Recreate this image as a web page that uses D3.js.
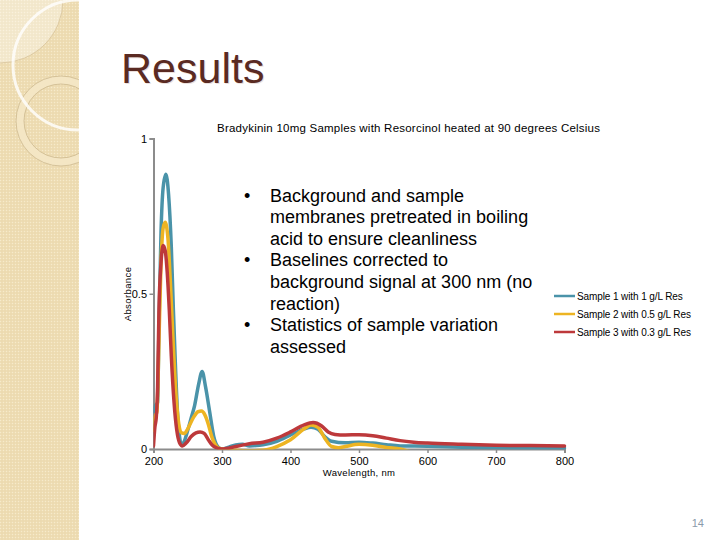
<!DOCTYPE html>
<html><head><meta charset="utf-8">
<script src="https://cdn.jsdelivr.net/npm/d3@7"></script>
<style>html,body{margin:0;padding:0;background:#fff;}svg{display:block;}</style>
</head><body>
<script>
// ---- data ----
const chartTitle = "Bradykinin 10mg Samples with Resorcinol heated at 90 degrees Celsius";
const seriesNames = ["Sample 1 with 1 g/L Res", "Sample 2 with 0.5 g/L Res", "Sample 3 with 0.3 g/L Res"];
const seriesColors = ["#4A93A9", "#EDB422", "#BD393B"];
const xTicks = [200, 300, 400, 500, 600, 700, 800];
const yTicks = [0, 0.5, 1];
const yTickLabels = ["0", "0.5", "1"];

const wl1 = [200,203,206,208,211,214,218,222,226,229,232,235,238,241,245,250,255,260,266,271,276,282,288,295,300,310,320,330,340,350,360,380,400,420,430,440,450,460,480,500,520,540,560,600,650,700,750,800];
const abs1 = [0.12,0.14,0.15,0.40,0.70,0.84,0.885,0.82,0.65,0.45,0.27,0.12,0.04,0.012,0.025,0.06,0.10,0.14,0.21,0.25,0.20,0.12,0.04,0.005,0.0,0.006,0.013,0.015,0.01,0.011,0.014,0.025,0.045,0.065,0.07,0.064,0.04,0.025,0.02,0.022,0.019,0.014,0.01,0.009,0.006,0.004,0.003,0.003];

const wl2 = [200,202,205,208,211,214,217,221,225,229,233,237,241,245,250,258,265,270,275,280,285,290,295,300,320,340,360,370,380,400,420,430,440,450,460,470,480,500,520,540,560,580,650,800];
const abs2 = [0.06,0.1,0.12,0.35,0.6,0.71,0.73,0.68,0.52,0.33,0.17,0.08,0.052,0.05,0.065,0.1,0.12,0.122,0.11,0.08,0.04,0.015,0.003,0.0,-0.004,-0.006,-0.004,0.0,0.008,0.03,0.065,0.077,0.07,0.035,0.008,0.004,0.008,0.015,0.012,0.005,0.0,-0.01,-0.01,-0.01];

const wl3 = [200,202,204,206,208,211,214,217,220,223,226,230,234,238,242,248,255,262,268,274,280,286,292,300,320,340,360,380,400,420,433,445,455,465,480,500,520,540,560,580,600,650,700,750,800];
const abs3 = [0.01,0.07,0.1,0.2,0.45,0.6,0.655,0.64,0.57,0.45,0.3,0.15,0.06,0.02,0.01,0.02,0.04,0.052,0.055,0.05,0.03,0.012,0.004,0.0,0.008,0.017,0.022,0.035,0.055,0.078,0.085,0.075,0.055,0.047,0.045,0.046,0.043,0.035,0.027,0.022,0.019,0.015,0.012,0.011,0.01];

const bulletLines = [
  {t:"Background and sample", b:true},
  {t:"membranes pretreated in boiling", b:false},
  {t:"acid to ensure cleanliness", b:false},
  {t:"Baselines corrected to", b:true},
  {t:"background signal at 300 nm (no", b:false},
  {t:"reaction)", b:false},
  {t:"Statistics of sample variation", b:true},
  {t:"assessed", b:false}
];

// ---- drawing ----
const W = 720, H = 540;
const svg = d3.select("body").append("svg").attr("width", W).attr("height", H);
const defs = svg.append("defs");
const font = "Arial, 'Liberation Sans', Helvetica, sans-serif";

// left decorative band
const pat = defs.append("pattern").attr("id","hatch").attr("width",3).attr("height",3).attr("patternUnits","userSpaceOnUse");
pat.append("rect").attr("width",3).attr("height",3).attr("fill","#EEDDB4");
pat.append("rect").attr("width",1).attr("height",1).attr("fill","#F6EACB");
pat.append("rect").attr("x",1.5).attr("y",1.5).attr("width",1).attr("height",1).attr("fill","#E6D2A4");
defs.append("clipPath").attr("id","bandclip").append("rect").attr("x",0).attr("y",0).attr("width",79).attr("height",H);
const band = svg.append("g").attr("clip-path","url(#bandclip)");
band.append("rect").attr("x",0).attr("y",0).attr("width",79).attr("height",H).attr("fill","url(#hatch)");
band.append("circle").attr("cx",0).attr("cy",0).attr("r",63).attr("fill","#FFFFFF").attr("fill-opacity",0.35).attr("stroke","#D8C49A").attr("stroke-width",0.8);
band.append("circle").attr("cx",61).attr("cy",121).attr("r",41).attr("fill","none").attr("stroke","#F4E6C4").attr("stroke-width",8);
band.append("circle").attr("cx",61).attr("cy",121).attr("r",45).attr("fill","none").attr("stroke","#CDB98E").attr("stroke-width",0.8);
band.append("circle").attr("cx",61).attr("cy",121).attr("r",37).attr("fill","none").attr("stroke","#CDB98E").attr("stroke-width",0.8);
band.append("circle").attr("cx",78).attr("cy",65).attr("r",65).attr("fill","none").attr("stroke","#FFFFFF").attr("stroke-opacity",0.8).attr("stroke-width",3);

// slide title
svg.append("text").attr("x",122).attr("y",83.5).attr("font-family",font).attr("font-size",43).attr("fill","#EBE0DC").text("Results");
svg.append("text").attr("x",121).attr("y",82.5).attr("font-family",font).attr("font-size",43).attr("fill","#5A2A22").text("Results");

// scales
const x = d3.scaleLinear().domain([200, 800]).range([153.5, 564.5]);
const y = d3.scaleLinear().domain([0, 1]).range([449, 138.5]);
const axisColor = "#8C8C8C";

// chart title
svg.append("text").attr("x",217).attr("y",132).attr("textLength",383).attr("lengthAdjust","spacing")
  .attr("font-family",font).attr("font-size",11.5).attr("fill","#000").text(chartTitle);

// axes
const xAxis = svg.append("g").attr("transform",`translate(0,${y(0)})`)
  .call(d3.axisBottom(x).tickValues(xTicks).tickSize(4).tickFormat(d3.format("d")));
xAxis.select(".domain").attr("stroke",axisColor).attr("stroke-width",2);
xAxis.selectAll(".tick line").attr("stroke",axisColor).attr("stroke-width",1.5);
xAxis.selectAll(".tick text").attr("font-family",font).attr("font-size",11).attr("fill","#000").attr("dy",0).attr("y",15.5);

const yAxis = svg.append("g").attr("transform",`translate(${x(200)},0)`)
  .call(d3.axisLeft(y).tickValues(yTicks).tickSize(4).tickFormat((d,i)=>yTickLabels[i]));
yAxis.select(".domain").attr("stroke",axisColor).attr("stroke-width",2);
yAxis.selectAll(".tick line").attr("stroke",axisColor).attr("stroke-width",1.5);
yAxis.selectAll(".tick text").attr("font-family",font).attr("font-size",11).attr("fill","#000").attr("x",-6.5).attr("dy","0.35em");

svg.append("text").attr("transform",`translate(131,294) rotate(-90)`).attr("text-anchor","middle")
  .attr("font-family",font).attr("font-size",9.5).attr("letter-spacing",0.4).attr("fill","#000").text("Absorbance");
svg.append("text").attr("x",359).attr("y",476).attr("text-anchor","middle")
  .attr("font-family",font).attr("font-size",9.5).attr("letter-spacing",0.3).attr("fill","#000").text("Wavelength, nm");

// series
defs.append("clipPath").attr("id","plotclip").append("rect")
  .attr("x",x(200)).attr("y",y(1)-5).attr("width",x(800)-x(200)+3).attr("height",y(0)-y(1)+5.5);
const series = [
  {wl: wl1, a: abs1},
  {wl: wl2, a: abs2},
  {wl: wl3, a: abs3}
];
const line = d3.line().x(d=>x(d[0])).y(d=>y(d[1])).curve(d3.curveMonotoneX);
const gl = svg.append("g").attr("clip-path","url(#plotclip)");
series.forEach((s,i)=>{
  const pts = s.wl.map((w,j)=>[w, s.a[j]]);
  gl.append("path").attr("d", line(pts)).attr("fill","none").attr("stroke",seriesColors[i])
    .attr("stroke-width",3.5).attr("stroke-linejoin","round").attr("stroke-linecap","round");
});

// legend
const lg = svg.append("g");
seriesNames.forEach((n,i)=>{
  const ly = 296 + i*18;
  lg.append("line").attr("x1",554).attr("x2",575).attr("y1",ly).attr("y2",ly).attr("stroke",seriesColors[i]).attr("stroke-width",2.5);
  lg.append("text").attr("x",577).attr("y",ly+3.5).attr("font-family",font).attr("font-size",10).attr("letter-spacing",-0.1).attr("fill","#000").text(n);
});

// bullet text
const bt = svg.append("g");
bulletLines.forEach((l,i)=>{
  const by = 201.5 + i*21.6;
  if (l.b) bt.append("text").attr("x",244).attr("y",by).attr("font-family",font).attr("font-size",18).attr("fill","#000").text("•");
  bt.append("text").attr("x",270).attr("y",by).attr("font-family",font).attr("font-size",18).attr("fill","#000").text(l.t);
});

// page number
svg.append("text").attr("x",704).attr("y",527).attr("text-anchor","end").attr("font-family",font).attr("font-size",11).attr("fill","#8A9AAA").text("14");
</script>
</body></html>
